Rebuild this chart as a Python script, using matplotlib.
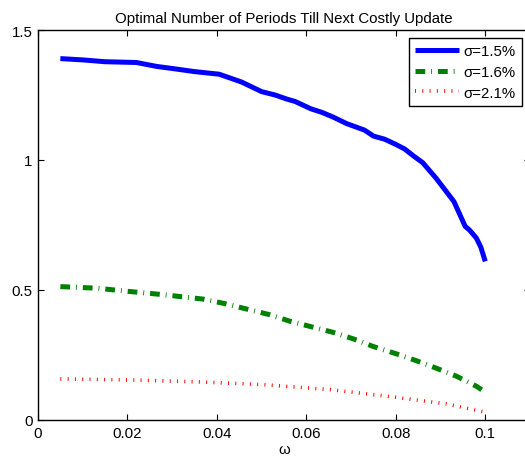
import matplotlib
matplotlib.use("Agg")
import matplotlib.pyplot as plt

plt.rcParams['font.family'] = ['Liberation Sans', 'DejaVu Sans']
plt.rcParams['lines.scale_dashes'] = False

# sigma = 1.5%
omega_a = [0.005, 0.010, 0.015, 0.022, 0.0265, 0.030, 0.035, 0.0405, 0.0455, 0.050,
           0.053, 0.0555, 0.0575, 0.061, 0.0635, 0.066, 0.069, 0.073, 0.075, 0.0775,
           0.080, 0.082, 0.084, 0.086, 0.089, 0.091, 0.093, 0.0955, 0.0965, 0.098,
           0.099, 0.1]
vals_a = [1.39, 1.385, 1.378, 1.375, 1.36, 1.352, 1.34, 1.33, 1.30, 1.263,
          1.25, 1.235, 1.225, 1.197, 1.183, 1.165, 1.14, 1.115, 1.092, 1.08,
          1.06, 1.042, 1.015, 0.99, 0.93, 0.885, 0.84, 0.745, 0.73, 0.70,
          0.665, 0.61]

# sigma = 1.6%
omega_b = [0.005, 0.0131, 0.0206, 0.028, 0.0369, 0.0414, 0.0466, 0.0518, 0.0563,
           0.0608, 0.066, 0.0705, 0.0749, 0.0802, 0.0846, 0.0891, 0.0936, 0.098, 0.1]
vals_b = [0.513, 0.507, 0.494, 0.482, 0.465, 0.449, 0.427, 0.405, 0.380,
          0.360, 0.337, 0.312, 0.283, 0.254, 0.228, 0.199, 0.168, 0.130, 0.107]

# sigma = 2.1%
omega_c = [0.005, 0.0206, 0.0355, 0.0504, 0.0653, 0.0802, 0.0913, 0.1]
vals_c = [0.158, 0.154, 0.147, 0.136, 0.117, 0.087, 0.062, 0.03]

labels = ['σ=1.5%', 'σ=1.6%', 'σ=2.1%']
xticks = [0, 0.02, 0.04, 0.06, 0.08, 0.1]
xticklabels = ['0', '0.02', '0.04', '0.06', '0.08', '0.1']
yticks = [0, 0.5, 1, 1.5]
yticklabels = ['0', '0.5', '1', '1.5']

fs = 10.8
fig = plt.figure(figsize=(5.25, 4.6), dpi=100)
ax = fig.add_axes([38/525, 39/460, 492/525, 390/460])

ax.plot(omega_a, vals_a, color='blue', lw=3.6, solid_capstyle='butt', label=labels[0])
ax.plot(omega_b, vals_b, color='green', lw=3.6, dash_capstyle='butt',
        dashes=(7.0, 4.3, 0.6, 4.3), label=labels[1])
ax.plot(omega_c, vals_c, color='red', lw=2.6, dash_capstyle='butt',
        dashes=(0.7, 4.55), label=labels[2])

ax.set_xlim(0, 0.11)
ax.set_ylim(0, 1.5)
ax.set_xticks(xticks)
ax.set_xticklabels(xticklabels)
ax.set_yticks(yticks)
ax.set_yticklabels(yticklabels)
ax.tick_params(direction='in', top=True, right=True, length=4, width=0.8,
               labelsize=fs, pad=4)
for s in ax.spines.values():
    s.set_linewidth(1.0)
ax.set_title('Optimal Number of Periods Till Next Costly Update', fontsize=fs, pad=6)
ax.set_xlabel('ω', fontsize=fs, labelpad=2)

leg = ax.legend(loc='upper right', bbox_to_anchor=(484/492, 1 - 8/390),
                fancybox=False, edgecolor='black', framealpha=1, fontsize=fs,
                handlelength=2.95, handletextpad=0.3, borderaxespad=0,
                labelspacing=0.45, borderpad=0.4)
leg.get_frame().set_linewidth(1.0)

fig.savefig('out.png', dpi=100)
